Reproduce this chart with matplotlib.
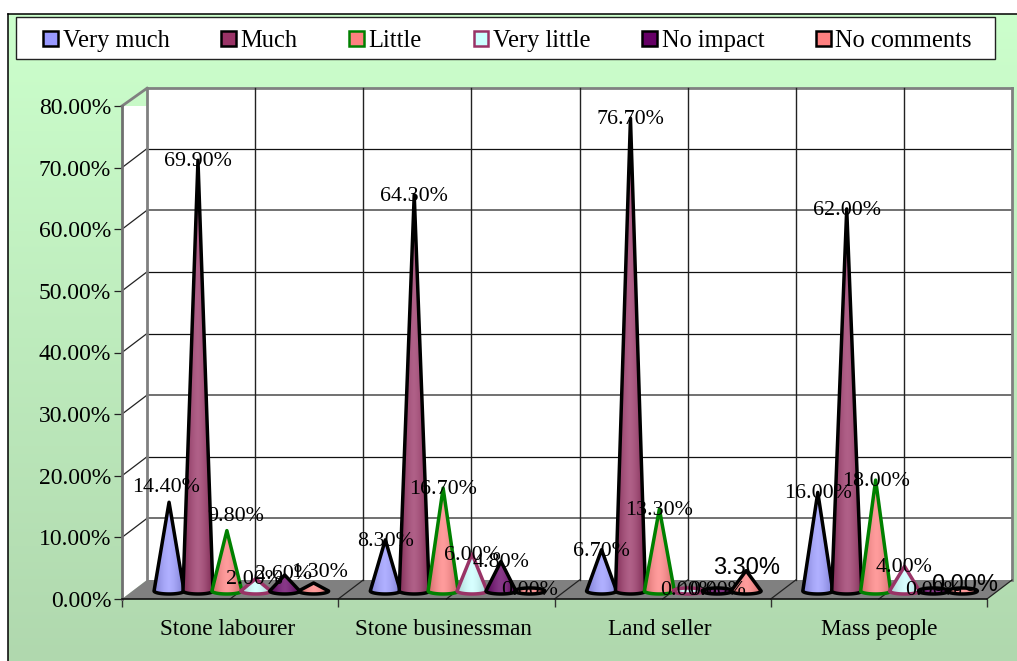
import numpy as np
import matplotlib
matplotlib.use("Agg")
import matplotlib.pyplot as plt
from matplotlib.patches import Polygon, Patch, Rectangle
from matplotlib.transforms import Affine2D
from matplotlib.colors import to_rgb

W, H = 1017, 661
categories = ["Stone labourer", "Stone businessman", "Land seller", "Mass people"]
series_names = ["Very much", "Much", "Little", "Very little", "No impact", "No comments"]
very_much = [14.4, 8.3, 6.7, 16.0]
much = [69.9, 64.3, 76.7, 62.0]
little = [9.8, 16.7, 13.3, 18.0]
very_little = [2.0, 6.0, 0.0, 4.0]
no_impact = [2.6, 4.8, 0.0, 0.0]
no_comments = [1.3, 0.0, 3.3, 0.0]
series_values = [very_much, much, little, very_little, no_impact, no_comments]
fills = ["#9999FF", "#993366", "#FF8080", "#CCFFFF", "#660066", "#FF8080"]
edges = ["#000000", "#000000", "#008000", "#993366", "#000000", "#000000"]
yticks = [0, 10, 20, 30, 40, 50, 60, 70, 80]

SERIF = "Liberation Serif"
SANS = "Liberation Sans"

fig = plt.figure(figsize=(W / 100, H / 100), dpi=100, facecolor="white")


def px_axes(x0, y0, x1, y1, **kw):
    return fig.add_axes([x0 / W, 1 - y1 / H, (x1 - x0) / W, (y1 - y0) / H], **kw)


# panel background
bg = px_axes(8, 14, W + 2, H + 2)
top, bot = np.array(to_rgb("#CCFFCC")), np.array(to_rgb("#B0D8AE"))
t = np.linspace(0, 1, 256)[:, None, None]
bg.imshow(top * (1 - t) + bot * t, aspect="auto", extent=(0, 1, 0, 1))
bg.set_xticks([])
bg.set_yticks([])
for s in bg.spines.values():
    s.set_linewidth(1.1)
    s.set_color("black")

# legend box
bg.add_patch(Rectangle((16, 17), 979, 42, transform=Affine2D().scale(1, -1).translate(0, H),
                       facecolor="white", edgecolor="#222222", lw=1.0, zorder=3, clip_on=False))

# main chart
ax = px_axes(122, 106, 987, 599)
ax.patch.set_visible(False)
ax.set_xlim(0, 4)
ax.set_ylim(0, 80)
UX, UY = 216.25, 6.1625  # pixels per data unit
DX, DY = 25 / UX, 19 / UY

GREY = "#808080"
TOP = 80 + DY - .2
ax.add_patch(Polygon([(DX, DY), (4 + DX, DY), (4 + DX, TOP), (DX, TOP)], fc="white", ec="none", zorder=0.5, clip_on=False))
ax.add_patch(Polygon([(0, 0), (DX, DY), (DX, TOP), (0, 80)], fc="white", ec="none", zorder=0.5))
ax.add_patch(Polygon([(0, 0), (DX, DY), (4 + DX, DY), (4, 0)], fc=GREY, ec="none", zorder=1, clip_on=False))

for v in yticks[1:]:
    if v == 80:
        c, lw = GREY, 2.0
    elif v in (10, 30, 60):
        c, lw = "#666666", 1.3
    else:
        c, lw = "#111111", 0.9
    ax.plot([DX, 4 + DX], [min(v + DY, TOP)] * 2, color=c, lw=lw, zorder=1.5, clip_on=False)
    if v < 80:
        ax.plot([0, DX], [v, v + DY], color="#222222", lw=0.9, zorder=1.5, clip_on=False)
ax.plot([0, DX], [80, TOP], color=GREY, lw=2.0, zorder=1.6, clip_on=False)
ax.plot([0, 0], [0, 80], color="#707070", lw=2.0, zorder=1.6, clip_on=False)
for g in np.arange(0, 4.01, 0.5):
    edge = g in (0, 4)
    ax.plot([g + DX] * 2, [DY, TOP], color=GREY if edge else "#222222", lw=2.0 if edge else 1.0, zorder=1.5, clip_on=False)
    if g > 0:
        ax.plot([g, g + DX], [0, DY], color="#222222", lw=0.9, zorder=1.6, clip_on=False)

for side in ("top", "right", "left"):
    ax.spines[side].set_visible(False)
ax.spines["bottom"].set_color("#111111")
ax.spines["bottom"].set_linewidth(1.2)
ax.spines["bottom"].set_zorder(2)

ax.set_yticks(yticks)
ax.set_yticklabels([f"{v:.2f}%" for v in yticks], fontfamily=SERIF, fontsize=17, color="black")
ax.tick_params(axis="y", length=5.8, width=0.9, pad=2, color="#222222")
ax.set_xticks([0, 1, 2, 3, 4])
ax.set_xticklabels([])
ax.tick_params(axis="x", which="major", length=5.8, width=1.0, color="#333333")
ax.set_xticks([0.487, 1.485, 2.485, 3.5], minor=True)
ax.set_xticklabels(categories, minor=True, fontfamily=SERIF, fontsize=16.7)
ax.tick_params(axis="x", which="minor", length=0, pad=14.5)

# cones
FIRST, STEP = 0.2176, 0.1337
BASE = 1.3
HALF_W = 15.0 / UX
HALF_H = 3.0 / UY
theta = np.linspace(np.pi, 2 * np.pi, 40)

# label nudges in pixels (dx, dy up) for labels the source moved by hand
nudges = {(0, 0): (-3, 16), (0, 2): (9, 16), (0, 3): (-1, 1), (0, 4): (-1, 2), (0, 5): (6, 12),
          (2, 4): (0, 2), (2, 3): (0, 2), (1, 5): (0, 2), (3, 4): (0, 2)}
arial = {(2, 5): (0, 4), (3, 5): (2, 7)}

z = 5.0
for g in range(len(categories)):
    for k, name in enumerate(series_names):
        v = series_values[k][g]
        cx = g + FIRST + k * STEP
        if v == 0:
            verts = np.column_stack([cx + HALF_W * np.cos(2 * theta), BASE + HALF_H * np.sin(2 * theta)])
        else:
            verts = np.vstack([[cx, BASE + v],
                               np.column_stack([cx + HALF_W * np.cos(theta), BASE + HALF_H * np.sin(theta)])])
        poly = Polygon(verts, closed=True, fc="none", ec=edges[k], lw=2.5, joinstyle="round", zorder=z + 0.5, clip_on=False)
        ax.add_patch(poly)
        col = np.array(to_rgb(fills[k]))
        u = np.linspace(-1, 1, 64)
        shade = 1 - np.abs(u) ** 1.5
        light = col + (1 - col) * 0.22
        dark = col * 0.82
        grad = dark * (1 - shade[None, :, None]) + light * shade[None, :, None]
        im = ax.imshow(grad, aspect="auto", zorder=z,
                       extent=(cx - HALF_W, cx + HALF_W, BASE - HALF_H, BASE + max(v, HALF_H)))
        im.set_clip_path(poly)
        z += 1
ax.set_xlim(0, 4)
ax.set_ylim(0, 80)

# value labels
for g in range(len(categories)):
    for k in range(len(series_names)):
        v = series_values[k][g]
        cx = g + FIRST + k * STEP
        dx, dy = nudges.get((g, k), (0, 0))
        sans = (g, k) in arial
        if sans:
            dx, dy = arial[(g, k)]
        ax.annotate(f"{v:.2f}%", (cx, BASE + v), xytext=(dx * .72, (dy - 1.5) * .72), textcoords="offset points",
                    ha="center", va="center", zorder=100, annotation_clip=False,
                    fontfamily=SANS if sans else SERIF, fontsize=17 if sans else 15.8, color="black")

# legend
handles = [Patch(facecolor=f, edgecolor=e, linewidth=1.8) for f, e in zip(fills, edges)]
leg = fig.legend(handles, series_names, loc="center left", bbox_to_anchor=(43 / W, 1 - 41 / H), frameon=False, ncol=6,
                 prop={"family": SERIF, "size": 17.65}, handlelength=0.6, handleheight=0.6, handletextpad=0.2,
                 columnspacing=2.1, borderpad=0, borderaxespad=0)
leg.set_zorder(20)

fig.savefig("out.png", dpi=100)
